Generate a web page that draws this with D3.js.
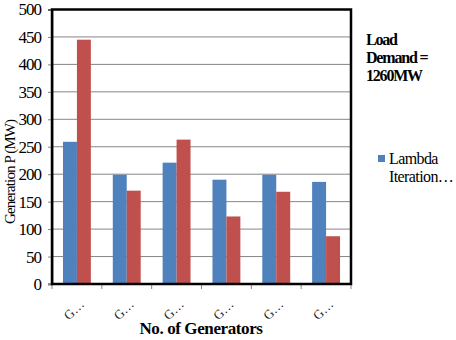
<!DOCTYPE html>
<html><head><meta charset="utf-8">
<script src="https://cdn.jsdelivr.net/npm/d3@7"></script>
<style>
body{margin:0;background:#fff;}
svg text{font-family:"Liberation Serif","DejaVu Serif","Times New Roman",serif;}
</style></head>
<body><svg id="c" width="456" height="340"></svg>
<script>
const categories = ["G1","G2","G3","G4","G5","G6"];
const categoryLabels = ["G…","G…","G…","G…","G…","G…"];
const lambdaIteration = [259, 199, 221, 190, 199, 186];
const otherMethod = [445, 170, 263, 123, 168, 87];
const yTicks = [0,50,100,150,200,250,300,350,400,450,500];
const colors = ["#4F81BD", "#C0504D"];

const svg = d3.select("#c");
const L = 52, R = 351, T = 9.5, B = 284;
const x = d3.scaleBand().domain(categories).range([L, R]).paddingInner(0.44).paddingOuter(0.22);
const x1 = d3.scaleBand().domain([0,1]).range([0, x.bandwidth()]);
const y = d3.scaleLinear().domain([0, 500]).range([B, T]);

svg.append("g").selectAll("line").data(yTicks.filter(d=>d>0)).join("line")
  .attr("x1", L).attr("x2", R).attr("y1", d=>y(d)).attr("y2", d=>y(d))
  .attr("stroke", "#868686").attr("stroke-width", 1);

const series = [lambdaIteration, otherMethod];
series.forEach((vals, si) => {
  svg.append("g").selectAll("rect").data(vals).join("rect")
    .attr("x", (d,i)=>x(categories[i]) + x1(si))
    .attr("width", x1.bandwidth())
    .attr("y", d=>y(d)).attr("height", d=>B - y(d))
    .attr("fill", colors[si]);
});

const ya = svg.append("g").attr("transform", `translate(${L},0)`)
  .call(d3.axisLeft(y).tickValues(yTicks).tickSize(4).tickPadding(7));
ya.attr("font-family", null);
ya.select(".domain").attr("stroke", "#000").attr("stroke-width", 1.5);
ya.selectAll(".tick line").attr("stroke", "#868686");
ya.selectAll("text").attr("font-size", 17).attr("fill", "#000")
  .attr("letter-spacing", "-1px");

const xa = svg.append("g").attr("transform", `translate(0,${B})`);
xa.append("line").attr("x1", L-4).attr("x2", R).attr("stroke", "#868686").attr("stroke-width", 1.5);
const bounds = d3.range(categories.length + 1).map(i => L + i * (R - L) / categories.length);
xa.selectAll("line.tk").data(bounds).join("line").attr("class","tk")
  .attr("x1", d=>d).attr("x2", d=>d).attr("y1", 0).attr("y2", 5).attr("stroke", "#868686");
xa.selectAll("text").data(categories).join("text")
  .attr("transform", d=>`translate(${x(d)+x.bandwidth()/2+8},${21}) rotate(-45)`)
  .attr("text-anchor", "end").attr("font-size", 13).attr("fill", "#222")
  .text((d,i)=>categoryLabels[i]);

svg.append("rect").attr("x", L).attr("y", T).attr("width", R-L).attr("height", B-T)
  .attr("fill", "none").attr("stroke", "#000").attr("stroke-width", 2.5);

svg.append("text").attr("x", 201).attr("y", 334).attr("text-anchor", "middle")
  .attr("font-size", 17).attr("font-weight", "bold").attr("letter-spacing", "-0.4px")
  .text("No. of Generators");
svg.append("text").attr("transform", "translate(15,172) rotate(-90)").attr("text-anchor", "middle")
  .attr("font-size", 15).attr("letter-spacing", "-0.9px")
  .text("Generation  P (MW)");

const ann = svg.append("text").attr("font-size", 16).attr("font-weight", "bold").attr("letter-spacing", "-1.2px");
["Load", "Demand =", "1260MW"].forEach((t,i)=>{
  ann.append("tspan").attr("x", 366).attr("y", 45 + i*18).text(t);
});

svg.append("rect").attr("x", 378).attr("y", 155).attr("width", 7).attr("height", 7).attr("fill", colors[0]);
const lg = svg.append("text").attr("font-size", 16).attr("letter-spacing", "-0.6px");
["Lambda", "Iteration…"].forEach((t,i)=>{
  lg.append("tspan").attr("x", 389).attr("y", 164 + i*18).text(t);
});
</script></body></html>
